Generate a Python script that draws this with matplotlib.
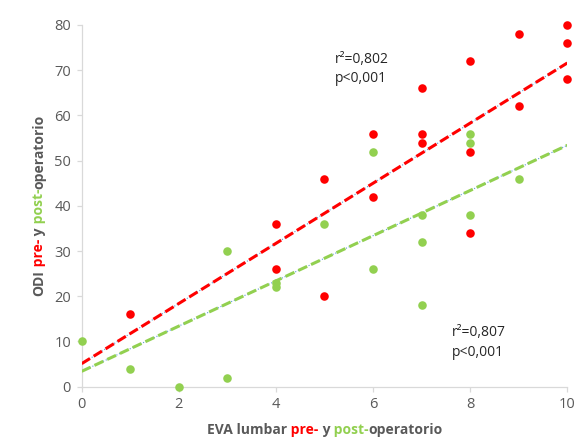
import numpy as np
import matplotlib
matplotlib.use("Agg")
import matplotlib.pyplot as plt

# EVA lumbar score vs ODI, before (pre) and after (post) surgery
pre_eva = [1, 4, 4, 5, 5, 6, 6, 7, 7, 7, 8, 8, 8, 9, 9, 10, 10, 10]
pre_odi = [16, 36, 26, 46, 20, 56, 42, 66, 56, 54, 72, 52, 34, 78, 62, 80, 76, 68]

post_eva = [0, 1, 2, 3, 3, 4, 4, 5, 6, 6, 7, 7, 7, 8, 8, 8, 9]
post_odi = [10, 4, 0, 30, 2, 22, 23, 36, 52, 26, 38, 32, 18, 56, 54, 38, 46]

# linear trendlines (slope, intercept)
pre_fit = (6.65, 5.1)
post_fit = (5.0, 3.4)

pre_stats = "r\u00b2=0,802\np<0,001"
post_stats = "r\u00b2=0,807\np<0,001"

RED = "#FF0000"
GREEN = "#92D050"
GREY = "#595959"
LIGHT = "#D9D9D9"

plt.rcParams["font.family"] = ["Open Sans", "DejaVu Sans"]

fig = plt.figure(figsize=(5.76, 4.37), dpi=100)
ax = fig.add_axes([0.1418, 0.1151, 0.8431, 0.8277])

xs = np.array([0, 10])
for (m, b), c in [(post_fit, GREEN), (pre_fit, RED)]:
    ax.plot(xs, m * xs + b, color="#5B9BD5", lw=0.8, ls=":", zorder=2)
    ax.plot(xs, m * xs + b, color=c, lw=2.2, ls=(0, (3.2, 1.4)), zorder=3)

ax.scatter(post_eva, post_odi, s=38, color=GREEN, linewidths=0, zorder=4, clip_on=False)
ax.scatter(pre_eva, pre_odi, s=38, color=RED, linewidths=0, zorder=5, clip_on=False)

ax.set_xlim(0, 10)
ax.set_ylim(0, 80)
ax.set_xticks(range(0, 11, 2))
ax.set_yticks(range(0, 81, 10))
for s in ["top", "right"]:
    ax.spines[s].set_visible(False)
for s in ["left", "bottom"]:
    ax.spines[s].set_color(LIGHT)
    ax.spines[s].set_linewidth(0.9)
ax.tick_params(length=3.6, width=0.9, color=LIGHT, labelcolor=GREY,
               labelsize=10.5, pad=4)

ax.text(5.21, 74.1, pre_stats, fontsize=10, color="#262626",
        va="top", ha="left", linespacing=1.42)
ax.text(7.62, 13.6, post_stats, fontsize=10, color="#262626",
        va="top", ha="left", linespacing=1.42)


def multicolor(x, y, pieces, vertical=False, **kw):
    # lay out coloured pieces end to end, centred on x (or y)
    r = fig.canvas.get_renderer()
    texts = []
    for s, c in pieces:
        t = fig.text(0, 0, s, color=c, rotation=90 if vertical else 0,
                     rotation_mode="anchor", ha="left", va="baseline", **kw)
        texts.append(t)
    sizes = []
    for t in texts:
        bb = t.get_window_extent(r)
        sizes.append(bb.height if vertical else bb.width)
    W, H = fig.bbox.width, fig.bbox.height
    pos = -sum(sizes) / 2
    for t, s in zip(texts, sizes):
        if vertical:
            t.set_position((x, y + pos / H))
        else:
            t.set_position((x + pos / W, y))
        pos += s


label_kw = dict(fontsize=10, fontweight="bold")
multicolor(0.5642, 0.006,
           [("EVA lumbar", GREY), (" pre-", RED), (" y", GREY),
            (" post-", GREEN), ("operatorio", GREY)], **label_kw)
multicolor(0.0755, 0.531,
           [("ODI", GREY), (" pre-", RED), (" y", GREY),
            (" post-", GREEN), ("operatorio", GREY)], vertical=True, **label_kw)

fig.savefig("out.png", dpi=100)
